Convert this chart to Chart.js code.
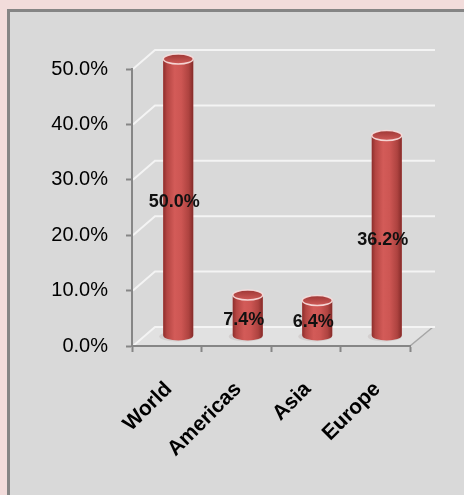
<!DOCTYPE html>
<html>
<head>
<meta charset="utf-8">
<title>Share by region</title>
<script src="https://cdn.jsdelivr.net/npm/chart.js@4.4.1/dist/chart.umd.min.js"></script>
<style>
  html, body { margin: 0; padding: 0; background: #f2dcdb; }
  #wrap { width: 464px; height: 495px; }
</style>
</head>
<body>
<div id="wrap"><canvas id="c" width="464" height="495"></canvas></div>
<script>
// Categories and their shares (percent)
const regions = ['World', 'Americas', 'Asia', 'Europe'];
const shares = [50.0, 7.4, 6.4, 36.2];
// Value axis
const axisMin = 0;
const axisMax = 50;
const axisStep = 10;

// 3D depth of the back wall relative to the front axes
const DEPTH_X = 23, DEPTH_Y = -19;
const AXIS_COLOR = '#868686';

const fmtPct = v => Number(v).toFixed(1) + '%';

const panelAndWalls = {
  id: 'panelAndWalls',
  beforeDraw(chart) {
    const ctx = chart.ctx;
    const { left, right, top, bottom } = chart.chartArea;
    const yScale = chart.scales.y;
    ctx.save();
    // page + panel
    ctx.fillStyle = '#f2dcdb';
    ctx.fillRect(0, 0, chart.width, chart.height);
    ctx.fillStyle = '#d9d9d9';
    ctx.fillRect(8.5, 10.5, chart.width, chart.height);
    ctx.strokeStyle = '#858585';
    ctx.lineWidth = 3;
    ctx.strokeRect(8.5, 10.5, chart.width, chart.height);

    // floor
    ctx.beginPath();
    ctx.moveTo(left, bottom);
    ctx.lineTo(right, bottom);
    ctx.lineTo(right + DEPTH_X, bottom + DEPTH_Y);
    ctx.lineTo(left + DEPTH_X, bottom + DEPTH_Y);
    ctx.closePath();
    ctx.fillStyle = '#e1e1e1';
    ctx.fill();
    ctx.strokeStyle = '#a6a6a6';
    ctx.lineWidth = 1.5;
    ctx.beginPath();
    ctx.moveTo(right, bottom);
    ctx.lineTo(right + DEPTH_X, bottom + DEPTH_Y);
    ctx.stroke();

    // wall gridlines: diagonal from the value axis, then across the back wall
    ctx.strokeStyle = '#f4f4f4';
    ctx.lineWidth = 2;
    yScale.ticks.forEach(t => {
      const y = yScale.getPixelForValue(t.value);
      ctx.beginPath();
      ctx.moveTo(left + 1, y);
      ctx.lineTo(left + DEPTH_X, y + DEPTH_Y);
      ctx.lineTo(right + DEPTH_X + 2, y + DEPTH_Y);
      ctx.stroke();
    });
    ctx.restore();
  }
};

// Bars sit halfway into the depth of the floor
const MID_X = 11.5, MID_Y = -10;

const cylinders = {
  id: 'cylinders',
  beforeDatasetsDraw(chart) {
    chart.ctx.save();
    chart.ctx.translate(MID_X, MID_Y);
  },
  afterDatasetsDraw(chart) {
    const ctx = chart.ctx;
    const meta = chart.getDatasetMeta(0);
    meta.data.forEach(el => {
      const cx = el.x, topY = el.y, baseY = el.base;
      const rx = el.width / 2, ry = 5;
      // soft floor shadow
      ctx.save();
      ctx.fillStyle = 'rgba(150,130,130,0.18)';
      ctx.beginPath();
      ctx.ellipse(cx - 2, baseY + 1, rx + 2, ry, 0, 0, Math.PI * 2);
      ctx.fill();
      ctx.restore();

      // body
      const g = ctx.createLinearGradient(cx - rx, 0, cx + rx, 0);
      g.addColorStop(0, '#8e2e2c');
      g.addColorStop(0.12, '#b34542');
      g.addColorStop(0.38, '#d35b58');
      g.addColorStop(0.6, '#cd5653');
      g.addColorStop(0.85, '#ae4340');
      g.addColorStop(1, '#852b29');
      ctx.fillStyle = g;
      ctx.beginPath();
      ctx.moveTo(cx - rx, topY);
      ctx.lineTo(cx - rx, baseY);
      ctx.ellipse(cx, baseY, rx, ry, 0, Math.PI, 0, true);
      ctx.lineTo(cx + rx, topY);
      ctx.closePath();
      ctx.fill();

      // top cap
      const tg = ctx.createLinearGradient(0, topY - ry, 0, topY + ry);
      tg.addColorStop(0, '#9e3735');
      tg.addColorStop(1, '#cf5b58');
      ctx.fillStyle = tg;
      ctx.beginPath();
      ctx.ellipse(cx, topY, rx, ry, 0, 0, Math.PI * 2);
      ctx.fill();
      ctx.strokeStyle = 'rgba(250,225,224,0.9)';
      ctx.lineWidth = 1.5;
      ctx.stroke();
    });
    ctx.restore();

    // value labels
    ctx.save();
    ctx.font = 'bold 18px "Liberation Sans", Arial, sans-serif';
    ctx.fillStyle = '#111';
    ctx.textAlign = 'center';
    ctx.textBaseline = 'middle';
    meta.data.forEach((el, i) => {
      const x = el.x + 7.5;
      const y = (el.y + el.base) / 2 - 5.5;
      ctx.fillText(fmtPct(shares[i]), x, y);
    });
    ctx.restore();
  }
};

new Chart(document.getElementById('c'), {
  type: 'bar',
  data: {
    labels: regions,
    datasets: [{
      data: shares,
      backgroundColor: '#c0504d',
      borderWidth: 0,
      barPercentage: 0.43,
      categoryPercentage: 1,
      clip: false
    }]
  },
  options: {
    responsive: false,
    animation: false,
    devicePixelRatio: 1,
    layout: { padding: { top: 69, right: 54, left: 0, bottom: 0 } },
    plugins: { legend: { display: false }, tooltip: { enabled: false } },
    scales: {
      x: {
        offset: true,
        afterFit(s) { s.height = 149; },
        border: { display: true, color: AXIS_COLOR, width: 2 },
        grid: {
          offset: true,
          drawOnChartArea: false,
          drawTicks: true,
          tickLength: 6,
          tickColor: AXIS_COLOR,
          tickWidth: 2
        },
        ticks: {
          autoSkip: false,
          minRotation: 45,
          maxRotation: 45,
          padding: 25,
          labelOffset: 2,
          color: '#000',
          font: { family: '"Liberation Sans", Arial, sans-serif', size: 21, weight: 'bold' }
        }
      },
      y: {
        min: axisMin,
        max: axisMax,
        afterFit(s) { s.width = 132; },
        border: { display: true, color: AXIS_COLOR, width: 2 },
        grid: {
          drawOnChartArea: false,
          drawTicks: true,
          tickLength: 6,
          tickColor: AXIS_COLOR,
          tickWidth: 2
        },
        ticks: {
          stepSize: axisStep,
          padding: 18,
          color: '#000',
          font: { family: '"Liberation Sans", Arial, sans-serif', size: 20 },
          callback: v => fmtPct(v)
        }
      }
    }
  },
  plugins: [panelAndWalls, cylinders]
});
</script>
</body>
</html>
